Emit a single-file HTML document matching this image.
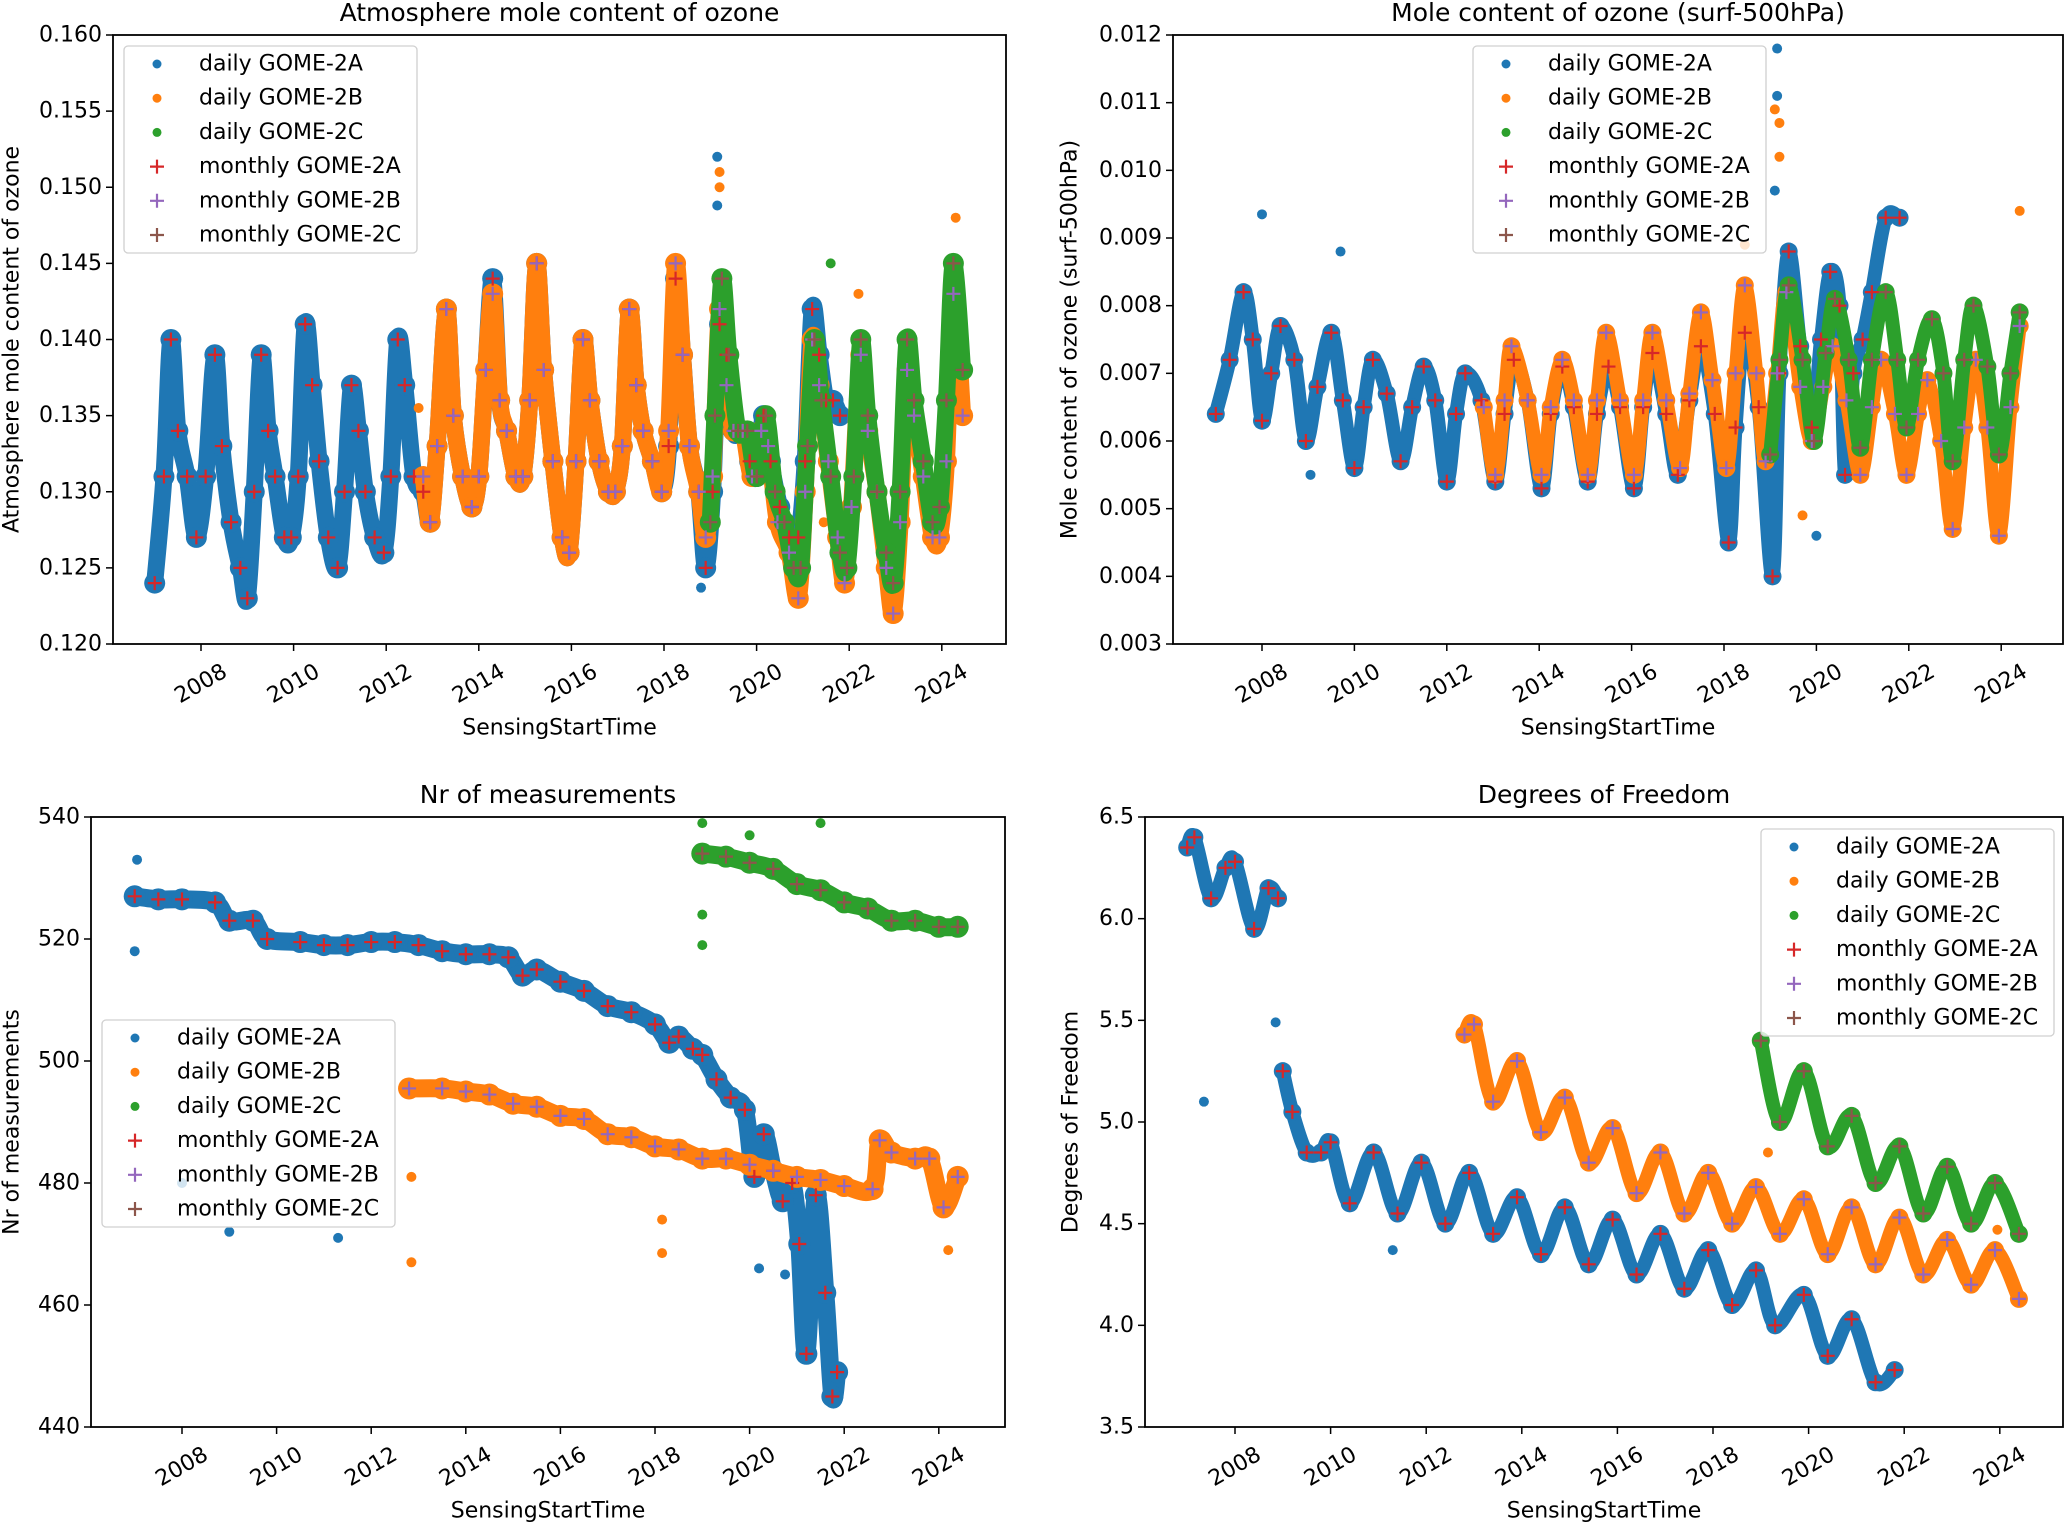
<!DOCTYPE html>
<html><head><meta charset="utf-8">
<style>
html,body{margin:0;padding:0;background:#fff;}
svg{display:block;font-family:"DejaVu Sans","Liberation Sans",sans-serif;}
</style></head>
<body>
<svg id="fig" width="2067" height="1525" viewBox="0 0 2067 1525" xmlns="http://www.w3.org/2000/svg"></svg>
<script>
// ---------- DATA: [year, value] ----------
const tlA = [[2007.0,0.124],[2007.2,0.131],[2007.35,0.140],[2007.5,0.134],[2007.7,0.131],[2007.9,0.127],[2008.1,0.131],[2008.3,0.139],[2008.45,0.133],[2008.65,0.128],[2008.85,0.125],[2009.0,0.123],[2009.15,0.130],[2009.3,0.139],[2009.45,0.134],[2009.6,0.131],[2009.8,0.127],[2009.95,0.127],[2010.1,0.131],[2010.25,0.141],[2010.4,0.137],[2010.55,0.132],[2010.75,0.127],[2010.95,0.125],[2011.1,0.130],[2011.25,0.137],[2011.4,0.134],[2011.55,0.130],[2011.75,0.127],[2011.95,0.126],[2012.1,0.131],[2012.25,0.140],[2012.4,0.137],[2012.6,0.131],[2012.8,0.130],[2012.95,0.128],[2013.1,0.133],[2013.3,0.142],[2013.45,0.135],[2013.65,0.131],[2013.85,0.129],[2014.0,0.131],[2014.15,0.138],[2014.3,0.144],[2014.45,0.136],[2014.6,0.134],[2014.8,0.131],[2014.95,0.131],[2015.1,0.136],[2015.25,0.145],[2015.4,0.138],[2015.6,0.132],[2015.8,0.127],[2015.95,0.126],[2016.1,0.132],[2016.25,0.140],[2016.4,0.136],[2016.6,0.132],[2016.8,0.130],[2016.95,0.130],[2017.1,0.133],[2017.25,0.142],[2017.4,0.137],[2017.55,0.134],[2017.75,0.132],[2017.95,0.130],[2018.1,0.133],[2018.25,0.144],[2018.4,0.139],[2018.55,0.133],[2018.75,0.130],[2018.9,0.125],[2019.05,0.130],[2019.2,0.141],[2019.35,0.139],[2019.5,0.134],[2019.7,0.134],[2019.85,0.132],[2020.0,0.131],[2020.15,0.135],[2020.3,0.132],[2020.5,0.129],[2020.7,0.127],[2020.9,0.127],[2021.05,0.132],[2021.2,0.142],[2021.35,0.139],[2021.5,0.136],[2021.65,0.136],[2021.8,0.135]];
const tlB = [[2012.8,0.131],[2012.95,0.128],[2013.1,0.133],[2013.3,0.142],[2013.45,0.135],[2013.65,0.131],[2013.85,0.129],[2014.0,0.131],[2014.15,0.138],[2014.3,0.143],[2014.45,0.136],[2014.6,0.134],[2014.8,0.131],[2014.95,0.131],[2015.1,0.136],[2015.25,0.145],[2015.4,0.138],[2015.6,0.132],[2015.8,0.127],[2015.95,0.126],[2016.1,0.132],[2016.25,0.140],[2016.4,0.136],[2016.6,0.132],[2016.8,0.130],[2016.95,0.130],[2017.1,0.133],[2017.25,0.142],[2017.4,0.137],[2017.55,0.134],[2017.75,0.132],[2017.95,0.130],[2018.1,0.134],[2018.25,0.145],[2018.4,0.139],[2018.55,0.133],[2018.75,0.130],[2018.9,0.127],[2019.05,0.131],[2019.2,0.142],[2019.35,0.137],[2019.5,0.134],[2019.7,0.134],[2019.9,0.131],[2020.1,0.134],[2020.25,0.133],[2020.45,0.128],[2020.7,0.126],[2020.9,0.123],[2021.05,0.130],[2021.2,0.140],[2021.35,0.137],[2021.55,0.132],[2021.75,0.127],[2021.9,0.124],[2022.05,0.129],[2022.25,0.139],[2022.4,0.134],[2022.6,0.130],[2022.8,0.125],[2022.95,0.122],[2023.1,0.128],[2023.25,0.138],[2023.4,0.135],[2023.6,0.131],[2023.8,0.127],[2023.95,0.127],[2024.1,0.132],[2024.25,0.143],[2024.45,0.135]];
const tlC = [[2019.0,0.128],[2019.1,0.135],[2019.25,0.144],[2019.4,0.139],[2019.6,0.134],[2019.8,0.134],[2020.0,0.131],[2020.2,0.135],[2020.4,0.130],[2020.6,0.128],[2020.8,0.125],[2020.95,0.125],[2021.1,0.133],[2021.25,0.140],[2021.4,0.136],[2021.6,0.131],[2021.8,0.126],[2021.95,0.125],[2022.1,0.131],[2022.25,0.140],[2022.4,0.135],[2022.6,0.130],[2022.8,0.126],[2022.95,0.124],[2023.1,0.130],[2023.25,0.140],[2023.4,0.136],[2023.6,0.132],[2023.8,0.128],[2023.95,0.129],[2024.1,0.136],[2024.25,0.145],[2024.45,0.138]];
const tlOutA = [[2019.15,0.152],[2019.15,0.1488],[2018.8,0.1237]];
const tlOutB = [[2019.2,0.151],[2019.2,0.150],[2024.3,0.148],[2022.2,0.143],[2012.7,0.1355],[2021.45,0.128]];
const tlOutC = [[2021.6,0.145]];

const trA = [[2007.0,0.0064],[2007.3,0.0072],[2007.6,0.0082],[2007.8,0.0075],[2008.0,0.0063],[2008.2,0.0070],[2008.4,0.0077],[2008.7,0.0072],[2008.95,0.0060],[2009.2,0.0068],[2009.5,0.0076],[2009.75,0.0066],[2010.0,0.0056],[2010.2,0.0065],[2010.4,0.0072],[2010.7,0.0067],[2011.0,0.0057],[2011.25,0.0065],[2011.5,0.0071],[2011.75,0.0066],[2012.0,0.0054],[2012.2,0.0064],[2012.4,0.0070],[2012.75,0.0066],[2013.05,0.0054],[2013.25,0.0064],[2013.45,0.0072],[2013.75,0.0066],[2014.05,0.0053],[2014.25,0.0064],[2014.5,0.0071],[2014.75,0.0065],[2015.05,0.0054],[2015.25,0.0064],[2015.5,0.0071],[2015.75,0.0065],[2016.05,0.0053],[2016.25,0.0065],[2016.45,0.0073],[2016.75,0.0064],[2017.0,0.0055],[2017.25,0.0066],[2017.5,0.0074],[2017.8,0.0064],[2018.1,0.0045],[2018.25,0.0062],[2018.45,0.0076],[2018.75,0.0065],[2019.05,0.0040],[2019.2,0.0070],[2019.4,0.0088],[2019.65,0.0074],[2019.9,0.0062],[2020.1,0.0075],[2020.3,0.0085],[2020.5,0.0080],[2020.62,0.0055],[2020.8,0.0070],[2021.0,0.0075],[2021.2,0.0082],[2021.5,0.0093],[2021.8,0.0093]];
const trB = [[2012.8,0.0065],[2013.05,0.0055],[2013.25,0.0066],[2013.4,0.0074],[2013.75,0.0066],[2014.05,0.0055],[2014.25,0.0065],[2014.5,0.0072],[2014.75,0.0066],[2015.05,0.0055],[2015.25,0.0066],[2015.45,0.0076],[2015.75,0.0066],[2016.05,0.0055],[2016.25,0.0066],[2016.45,0.0076],[2016.75,0.0066],[2017.05,0.0056],[2017.25,0.0067],[2017.5,0.0079],[2017.75,0.0069],[2018.05,0.0056],[2018.25,0.0070],[2018.45,0.0083],[2018.7,0.0070],[2018.9,0.0057],[2019.15,0.0070],[2019.35,0.0082],[2019.65,0.0068],[2019.9,0.0060],[2020.15,0.0068],[2020.35,0.0074],[2020.65,0.0066],[2020.95,0.0055],[2021.2,0.0065],[2021.4,0.0072],[2021.7,0.0064],[2021.95,0.0055],[2022.2,0.0064],[2022.4,0.0069],[2022.7,0.0060],[2022.95,0.0047],[2023.2,0.0062],[2023.45,0.0072],[2023.7,0.0062],[2023.95,0.0046],[2024.2,0.0065],[2024.4,0.0077]];
const trC = [[2019.0,0.0058],[2019.2,0.0072],[2019.4,0.0083],[2019.7,0.0072],[2019.95,0.0060],[2020.2,0.0073],[2020.4,0.0081],[2020.7,0.0072],[2020.95,0.0059],[2021.2,0.0072],[2021.5,0.0082],[2021.75,0.0072],[2021.95,0.0062],[2022.2,0.0072],[2022.5,0.0078],[2022.75,0.0070],[2022.95,0.0057],[2023.2,0.0072],[2023.4,0.0080],[2023.7,0.0071],[2023.95,0.0058],[2024.2,0.0070],[2024.4,0.0079]];
const trOutA = [[2008.0,0.00935],[2009.7,0.0088],[2019.15,0.0118],[2019.15,0.0111],[2019.1,0.0097],[2020.0,0.0046],[2009.05,0.0055]];
const trOutB = [[2019.1,0.0109],[2019.2,0.0107],[2019.2,0.0102],[2024.4,0.0094],[2018.45,0.0089],[2019.7,0.0049]];
const trOutC = [];

const blA = [[2007.0,527],[2007.5,526.5],[2008.0,526.5],[2008.7,526],[2009.0,523],[2009.5,523],[2009.8,520],[2010.5,519.5],[2011.0,519],[2011.5,519],[2012.0,519.5],[2012.5,519.5],[2013.0,519],[2013.5,518],[2014.0,517.5],[2014.5,517.5],[2014.9,517],[2015.2,514],[2015.5,515],[2016.0,513],[2016.5,511.5],[2017.0,509],[2017.5,508],[2018.0,506],[2018.3,503],[2018.5,504],[2018.8,502],[2019.0,501],[2019.3,497],[2019.6,494],[2019.9,492],[2020.1,481],[2020.3,488],[2020.5,482],[2020.7,477],[2020.9,480],[2021.05,470],[2021.2,452],[2021.4,478],[2021.6,462],[2021.75,445],[2021.85,449]];
const blB = [[2012.8,495.5],[2013.5,495.5],[2014.0,495],[2014.5,494.5],[2015.0,493],[2015.5,492.5],[2016.0,491],[2016.5,490.5],[2017.0,488],[2017.5,487.5],[2018.0,486],[2018.5,485.5],[2019.0,484],[2019.5,484],[2020.0,483],[2020.5,482],[2021.0,481],[2021.5,480.5],[2022.0,479.5],[2022.6,479],[2022.75,487],[2023.0,485],[2023.5,484],[2023.8,484],[2024.1,476],[2024.4,481]];
const blC = [[2019.0,534],[2019.5,533.5],[2020.0,532.5],[2020.5,531.5],[2021.0,529],[2021.5,528],[2022.0,526],[2022.5,525],[2023.0,523],[2023.5,523],[2024.0,522],[2024.4,522]];
const blOutA = [[2007.0,518],[2009.0,472],[2011.3,471],[2008.0,480],[2020.2,466],[2020.75,465],[2007.05,533]];
const blOutB = [[2012.85,481],[2012.85,467],[2018.15,474],[2018.15,468.5],[2024.2,469]];
const blOutC = [[2019.0,524],[2019.0,519],[2019.0,539],[2021.5,539],[2020.0,537]];

const brA = [[2007.0,6.35],[2007.15,6.40],[2007.5,6.1],[2007.8,6.25],[2008.0,6.28],[2008.4,5.95],[2008.7,6.15],[2008.9,6.1],null,[2009.0,5.25],[2009.2,5.05],[2009.5,4.85],[2009.8,4.85],[2010.0,4.9],[2010.4,4.6],[2010.9,4.85],[2011.4,4.55],[2011.9,4.8],[2012.4,4.5],[2012.9,4.75],[2013.4,4.45],[2013.9,4.63],[2014.4,4.35],[2014.9,4.58],[2015.4,4.3],[2015.9,4.52],[2016.4,4.25],[2016.9,4.45],[2017.4,4.18],[2017.9,4.37],[2018.4,4.1],[2018.9,4.27],[2019.3,4.0],[2019.9,4.15],[2020.4,3.85],[2020.9,4.03],[2021.4,3.72],[2021.8,3.78]];
const brB = [[2012.8,5.43],[2013.0,5.48],[2013.4,5.1],[2013.9,5.3],[2014.4,4.95],[2014.9,5.12],[2015.4,4.8],[2015.9,4.97],[2016.4,4.65],[2016.9,4.85],[2017.4,4.55],[2017.9,4.75],[2018.4,4.5],[2018.9,4.68],[2019.4,4.45],[2019.9,4.62],[2020.4,4.35],[2020.9,4.58],[2021.4,4.3],[2021.9,4.53],[2022.4,4.25],[2022.9,4.42],[2023.4,4.2],[2023.9,4.37],[2024.4,4.13]];
const brC = [[2019.0,5.4],[2019.4,5.0],[2019.9,5.25],[2020.4,4.88],[2020.9,5.03],[2021.4,4.7],[2021.9,4.88],[2022.4,4.55],[2022.9,4.78],[2023.4,4.5],[2023.9,4.7],[2024.4,4.45]];
const brOutA = [[2007.35,5.1],[2011.3,4.37],[2008.85,5.49]];
const brOutB = [[2019.15,4.85],[2023.95,4.47]];
const brOutC = [];

const yearTicks = [2008,2010,2012,2014,2016,2018,2020,2022,2024];
const tlTicks = [0.120,0.125,0.130,0.135,0.140,0.145,0.150,0.155,0.160];
const trTicks = [0.003,0.004,0.005,0.006,0.007,0.008,0.009,0.010,0.011,0.012];
const blTicks = [440,460,480,500,520,540];
const brTicks = [3.5,4.0,4.5,5.0,5.5,6.0,6.5];
const legendLabels = ["daily GOME-2A","daily GOME-2B","daily GOME-2C","monthly GOME-2A","monthly GOME-2B","monthly GOME-2C"];

// ---------- RENDER ----------
const NS = "http://www.w3.org/2000/svg";
const fig = document.getElementById('fig');
const COL = {A:"#1f77b4",B:"#ff7f0e",C:"#2ca02c",mA:"#d62728",mB:"#9467bd",mC:"#8c564b"};
function mk(tag, attrs, parent){
  const e = document.createElementNS(NS, tag);
  for (const k in attrs) e.setAttribute(k, attrs[k]);
  (parent||fig).appendChild(e);
  return e;
}
function smoothPath(pts){
  let d = "";
  const segs = []; let cur = [];
  pts.forEach(p => { if (p === null){ if(cur.length) segs.push(cur); cur=[]; } else cur.push(p); });
  if (cur.length) segs.push(cur);
  segs.forEach(s => {
    d += "M"+s[0][0]+","+s[0][1];
    for (let i=0;i<s.length-1;i++){
      const p0=s[Math.max(0,i-1)], p1=s[i], p2=s[i+1], p3=s[Math.min(s.length-1,i+2)];
      const c1x=p1[0]+(p2[0]-p0[0])/6, c1y=p1[1]+(p2[1]-p0[1])/6;
      const c2x=p2[0]-(p3[0]-p1[0])/6, c2y=p2[1]-(p3[1]-p1[1])/6;
      d += " C"+c1x+","+c1y+" "+c2x+","+c2y+" "+p2[0]+","+p2[1];
    }
  });
  return d;
}
function panel(cfg){
  const g = mk('g', {});
  
  
  const L=cfg.L, R=cfg.R, T=cfg.T, B=cfg.B;
  const xs = yr => cfg.x2008 + (yr-2008)*cfg.pxy;
  const ys = v => B - (v-cfg.ymin)/(cfg.ymax-cfg.ymin)*(B-T);
  const clipId = cfg.name+"-clip";
  const defs = mk('defs', {}, g);
  const cp = mk('clipPath', {id:clipId}, defs);
  mk('rect', {x:L, y:T, width:R-L, height:B-T}, cp);
  const plot = mk('g', {'clip-path':'url(#'+clipId+')'}, g);
  
  
  const tp = arr => arr.map(p => p===null ? null : [xs(p[0]), ys(p[1])]);
  cfg.daily.forEach(s => {
    const path = mk('path', {d:smoothPath(tp(s.data)), fill:'none', stroke:s.color, 'stroke-width':cfg.bw, 'stroke-linejoin':'round','stroke-linecap':'round'}, plot);
    
    
    s.data.forEach(p => { if(p===null) return;
      const c = mk('circle', {cx:xs(p[0]), cy:ys(p[1]), r:cfg.bw/2+2, fill:s.color}, plot);
      
      
    });
    s.out.forEach(p => {
      const c = mk('circle', {cx:xs(p[0]), cy:ys(p[1]), r:5, fill:s.color}, plot);
      
      
    });
  });
  cfg.monthly.forEach(s => {
    s.data.forEach(p => { if(p===null) return;
      const x=xs(p[0]), y=ys(p[1]);
      const m = mk('path', {d:"M"+(x-7)+","+y+"H"+(x+7)+"M"+x+","+(y-7)+"V"+(y+7), stroke:s.color, 'stroke-width':2.2, fill:'none'}, plot);
      
      
    });
  });
  const fr = mk('rect', {x:L, y:T, width:R-L, height:B-T, fill:'none', stroke:'#000', 'stroke-width':1.8}, g);
  
  
  yearTicks.forEach(yr => {
    const x = xs(yr);
    mk('line', {x1:x, x2:x, y1:B, y2:B+7, stroke:'#000','stroke-width':1.5}, g);
    const t = mk('text', {x:x, y:B+40, 'font-size':22, 'text-anchor':'middle', 'dominant-baseline':'central', transform:'rotate(-30 '+x+' '+(B+40)+')'}, g);
    t.textContent = yr;
    
    
  });
  cfg.yticks.forEach(v => {
    const y = ys(v);
    mk('line', {x1:L-7, x2:L, y1:y, y2:y, stroke:'#000','stroke-width':1.5}, g);
    const t = mk('text', {x:L-11, y:y, 'font-size':22, 'text-anchor':'end', 'dominant-baseline':'central'}, g);
    t.textContent = v.toFixed(cfg.dec);
    
    
  });
  const ti = mk('text', {x:(L+R)/2, y:T-14, 'font-size':25, 'text-anchor':'middle'}, g);
  ti.textContent = cfg.title;
  
  
  const xl = mk('text', {x:(L+R)/2, y:B+84, 'font-size':22, 'text-anchor':'middle','dominant-baseline':'central'}, g);
  xl.textContent = "SensingStartTime";
  
  
  const yx = cfg.ylx, yy=(T+B)/2;
  const yl = mk('text', {x:yx, y:yy, 'font-size':22, 'text-anchor':'middle','dominant-baseline':'central', transform:'rotate(-90 '+yx+' '+yy+')'}, g);
  yl.textContent = cfg.ylabel;
  
  
  const lg = mk('g', {}, g);
  
  
  mk('rect', {x:cfg.lx, y:cfg.ly, width:293, height:207, rx:4, fill:'#fff', 'fill-opacity':0.8, stroke:'#d0d0d0','stroke-width':1.3}, lg);
  const lc = [COL.A,COL.B,COL.C,COL.mA,COL.mB,COL.mC];
  legendLabels.forEach((lab,i) => {
    const cy = cfg.ly + 18 + i*34.2;
    const mx = cfg.lx + 33;
    if (i<3) mk('circle', {cx:mx, cy:cy, r:4.5, fill:lc[i]}, lg);
    else mk('path', {d:"M"+(mx-7)+","+cy+"H"+(mx+7)+"M"+mx+","+(cy-7)+"V"+(cy+7), stroke:lc[i],'stroke-width':2.2}, lg);
    const t = mk('text', {x:cfg.lx+75, y:cy, 'font-size':22, 'dominant-baseline':'central'}, lg);
    t.textContent = lab;
    
    
  });
}
function series(a,b,c,oa,ob,oc,bw){
  return {daily:[{id:'2a',color:COL.A,data:a,out:oa},{id:'2b',color:COL.B,data:b,out:ob},{id:'2c',color:COL.C,data:c,out:oc}],
          monthly:[{id:'2a',color:COL.mA,data:a},{id:'2b',color:COL.mB,data:b},{id:'2c',color:COL.mC,data:c}], bw:bw};
}
panel(Object.assign({name:'panel-total-ozone', L:113,R:1006,T:35,B:644, x2008:201, pxy:46.3, ymin:0.120,ymax:0.160, yticks:tlTicks, dec:3,
  title:"Atmosphere mole content of ozone", ylabel:"Atmosphere mole content of ozone", ylx:12, lx:124, ly:46}, series(tlA,tlB,tlC,tlOutA,tlOutB,tlOutC,17)));
panel(Object.assign({name:'panel-surface-ozone', L:1173,R:2063,T:35,B:644, x2008:1262, pxy:46.2, ymin:0.003,ymax:0.012, yticks:trTicks, dec:3,
  title:"Mole content of ozone (surf-500hPa)", ylabel:"Mole content of ozone (surf-500hPa)", ylx:1070, lx:1473, ly:46}, series(trA,trB,trC,trOutA,trOutB,trOutC,14)));
panel(Object.assign({name:'panel-nr-measurements', L:91,R:1005,T:817,B:1427, x2008:182, pxy:47.3, ymin:440,ymax:540, yticks:blTicks, dec:0,
  title:"Nr of measurements", ylabel:"Nr of measurements", ylx:12, lx:102, ly:1020}, series(blA,blB,blC,blOutA,blOutB,blOutC,18)));
panel(Object.assign({name:'panel-degrees-freedom', L:1145,R:2063,T:817,B:1427, x2008:1235, pxy:47.8, ymin:3.5,ymax:6.5, yticks:brTicks, dec:1,
  title:"Degrees of Freedom", ylabel:"Degrees of Freedom", ylx:1071, lx:1761, ly:829}, series(brA,brB,brC,brOutA,brOutB,brOutC,14)));
</script>
</body></html>
